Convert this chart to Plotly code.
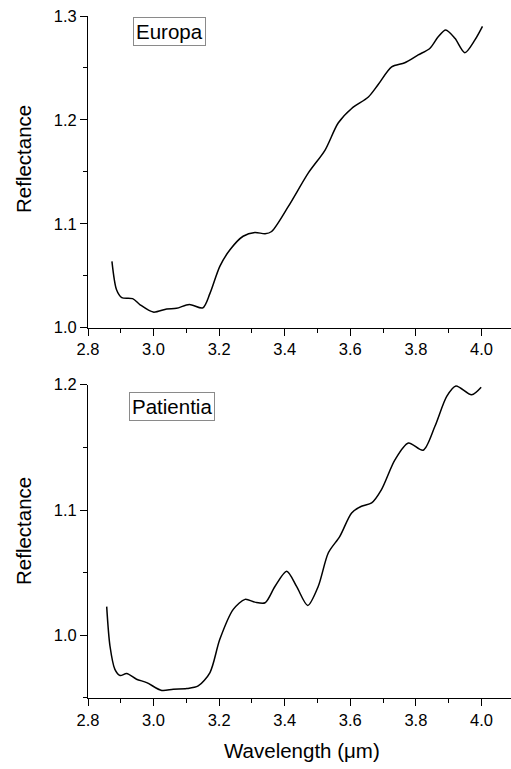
import plotly.graph_objects as go
from plotly.subplots import make_subplots

# Europa spectrum (wavelength in µm, reflectance)
europa_wl = [2.873, 2.887, 2.903, 2.936, 2.959, 2.999, 3.040, 3.070, 3.109, 3.150,
             3.172, 3.202, 3.233, 3.273, 3.309, 3.340, 3.360, 3.411, 3.472, 3.523,
             3.563, 3.604, 3.655, 3.685, 3.726, 3.766, 3.807, 3.843, 3.868, 3.891,
             3.919, 3.949, 3.980, 4.003]
europa_r = [1.0638, 1.0365, 1.029, 1.028, 1.022, 1.015, 1.018, 1.0186, 1.0224, 1.019,
            1.033, 1.059, 1.075, 1.088, 1.0917, 1.0904, 1.0926, 1.1167, 1.149, 1.171,
            1.197, 1.211, 1.222, 1.234, 1.251, 1.255, 1.2625, 1.269, 1.280, 1.2865,
            1.2785, 1.2647, 1.277, 1.290]

# Patientia spectrum
pat_wl = [2.857, 2.867, 2.882, 2.898, 2.918, 2.948, 2.979, 3.025, 3.060, 3.101,
          3.136, 3.172, 3.202, 3.243, 3.279, 3.309, 3.340, 3.370, 3.406, 3.436,
          3.470, 3.502, 3.533, 3.568, 3.604, 3.634, 3.665, 3.695, 3.736, 3.777,
          3.822, 3.858, 3.894, 3.922, 3.970, 3.999]
pat_r = [1.0229, 0.9915, 0.9729, 0.968, 0.9695, 0.965, 0.9623, 0.956, 0.957, 0.9575,
         0.9596, 0.9703, 0.9968, 1.0207, 1.0287, 1.0265, 1.026, 1.039, 1.0512, 1.039,
         1.0239, 1.039, 1.0659, 1.079, 1.0977, 1.103, 1.1057, 1.1163, 1.140, 1.1535,
         1.1477, 1.1668, 1.1907, 1.199, 1.192, 1.198]

x_ticks = [2.8, 3.0, 3.2, 3.4, 3.6, 3.8, 4.0]
top_y_ticks = [1.0, 1.1, 1.2, 1.3]
bot_y_ticks = [1.0, 1.1, 1.2]

FONT = "Liberation Sans, Arial, sans-serif"

fig = make_subplots(rows=2, cols=1, vertical_spacing=0.08)
fig.add_trace(go.Scatter(x=europa_wl, y=europa_r, mode="lines",
                         line=dict(color="black", width=1.5, shape="spline", smoothing=0.8),
                         showlegend=False), row=1, col=1)
fig.add_trace(go.Scatter(x=pat_wl, y=pat_r, mode="lines",
                         line=dict(color="black", width=1.5, shape="spline", smoothing=0.8),
                         showlegend=False), row=2, col=1)

axis_common = dict(showline=True, linecolor="black", linewidth=1, showgrid=False,
                   zeroline=False, ticks="outside", ticklen=7, tickwidth=1,
                   tickcolor="black", tickfont=dict(family=FONT, size=16.5, color="black"))

for r in (1, 2):
    fig.update_xaxes(range=[2.8, 4.09], tickvals=x_ticks, tickformat=".1f",
                     minor=dict(dtick=0.1, tick0=2.8, ticks="outside", ticklen=4,
                                tickcolor="black", showgrid=False),
                     row=r, col=1, **axis_common)

fig.update_yaxes(range=[1.0, 1.3], tickvals=top_y_ticks, tickformat=".1f",
                 minor=dict(dtick=0.05, tick0=1.0, ticks="outside", ticklen=4,
                            tickcolor="black", showgrid=False),
                 row=1, col=1, **axis_common)
fig.update_yaxes(range=[0.95, 1.2], tickvals=bot_y_ticks, tickformat=".1f",
                 minor=dict(dtick=0.05, tick0=0.95, ticks="outside", ticklen=4,
                            tickcolor="black", showgrid=False),
                 row=2, col=1, **axis_common)

fig.update_layout(
    width=511, height=769,
    margin=dict(l=88, r=0, t=16, b=71),
    paper_bgcolor="white", plot_bgcolor="white",
    xaxis=dict(domain=[0, 1], anchor="y"),
    yaxis=dict(domain=[0.543, 1.0]),
    xaxis2=dict(domain=[0, 1], anchor="y2"),
    yaxis2=dict(domain=[0.0, 0.4594]),
)

ann_font = dict(family=FONT, size=20.5, color="black")
fig.add_annotation(text="Europa", xref="paper", yref="paper", x=(169 - 88) / 423,
                   y=1 - (31.3 - 16) / 682, xanchor="center", yanchor="middle",
                   showarrow=False, font=ann_font, bordercolor="#8a8a8a",
                   borderwidth=1, borderpad=2, bgcolor="white")
fig.add_annotation(text="Patientia", xref="paper", yref="paper", x=(172 - 88) / 423,
                   y=1 - (406.8 - 16) / 682, xanchor="center", yanchor="middle",
                   showarrow=False, font=ann_font, bordercolor="#8a8a8a",
                   borderwidth=1, borderpad=2, bgcolor="white")
fig.add_annotation(text="Reflectance", xref="paper", yref="paper",
                   x=(23 - 88) / 423, y=1 - (159 - 16) / 682, textangle=-90,
                   showarrow=False, font=ann_font, xanchor="center", yanchor="middle")
fig.add_annotation(text="Reflectance", xref="paper", yref="paper",
                   x=(23 - 88) / 423, y=1 - (531 - 16) / 682, textangle=-90,
                   showarrow=False, font=ann_font, xanchor="center", yanchor="middle")
fig.add_annotation(text="Wavelength (μm)", xref="paper", yref="paper",
                   x=(302 - 88) / 423, y=-(751 - 698.3) / 682,
                   showarrow=False, font=ann_font, xanchor="center", yanchor="middle")

fig.write_html("out.html")
